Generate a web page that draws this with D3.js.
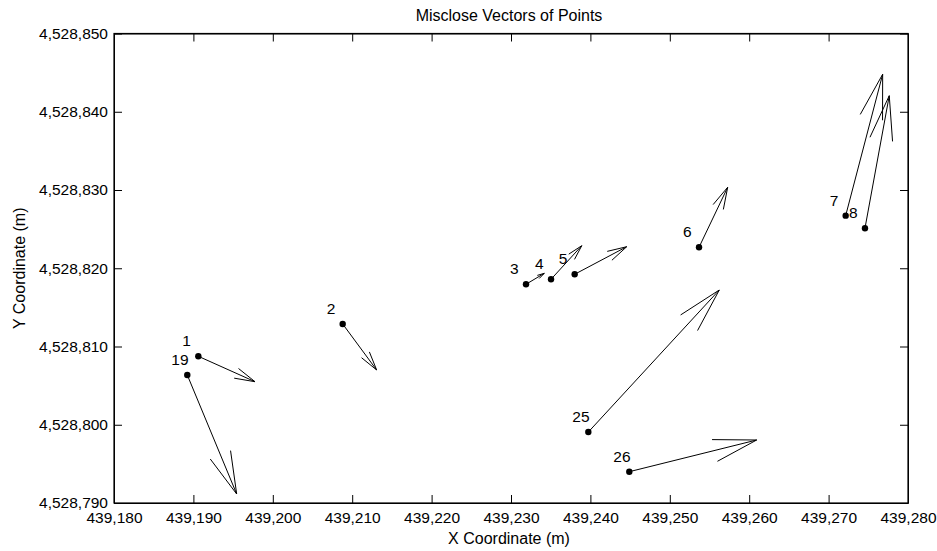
<!DOCTYPE html>
<html>
<head>
<meta charset="utf-8">
<script src="https://cdn.jsdelivr.net/npm/d3@7"></script>
<style>
  body { margin: 0; background: #fff; }
  svg { display: block; font-family: "Liberation Sans", Arial, sans-serif; }
</style>
</head>
<body>
<script>
const width = 937;
const height = 551;

// point ids, positions and drawn misclose vectors (m)
const ids = ["1", "2", "3", "4", "5", "6", "7", "8", "19", "25", "26"];
const xs = [439190.62, 439208.80, 439231.89, 439235.04, 439238.02, 439253.68, 439272.15, 439274.58, 439189.23, 439239.74, 439244.90];
const ys = [4528808.75, 4528812.88, 4528817.95, 4528818.59, 4528819.23, 4528822.68, 4528826.72, 4528825.11, 4528806.36, 4528799.07, 4528794.00];
const us = [7.14, 4.28, 2.30, 3.87, 6.55, 3.61, 4.66, 3.06, 6.22, 16.49, 16.04];
const vs = [-3.25, -5.88, 1.40, 4.29, 3.52, 7.67, 18.07, 16.94, -15.21, 18.15, 4.05];

const xTicks = [439180, 439190, 439200, 439210, 439220, 439230, 439240, 439250, 439260, 439270, 439280];
const yTicks = [4528790, 4528800, 4528810, 4528820, 4528830, 4528840, 4528850];

const plotL = 114, plotR = 908, plotT = 33.5, plotB = 503;

const svg = d3.select("body").append("svg")
    .attr("width", width)
    .attr("height", height);

const x = d3.scaleLinear().domain([439180, 439280]).range([plotL, plotR]);
const y = d3.scaleLinear().domain([4528790, 4528850]).range([plotB, plotT]);

const fmt = d3.format(",");
const tickLen = 8;

// axes, ticks pointing inward like matlab
svg.append("g")
    .attr("transform", `translate(0,${plotB})`)
    .call(d3.axisBottom(x).tickValues(xTicks).tickFormat(fmt).tickSizeInner(-tickLen).tickSizeOuter(0).tickPadding(9))
    .call(g => g.selectAll("text").attr("font-size", "15.5px").attr("fill", "#000"));

svg.append("g")
    .attr("transform", `translate(0,${plotT})`)
    .call(d3.axisTop(x).tickValues(xTicks).tickFormat("").tickSizeInner(-tickLen).tickSizeOuter(0));

svg.append("g")
    .attr("transform", `translate(${plotL},0)`)
    .call(d3.axisLeft(y).tickValues(yTicks).tickFormat(fmt).tickSizeInner(-tickLen).tickSizeOuter(0).tickPadding(6))
    .call(g => g.selectAll("text").attr("font-size", "15.5px").attr("fill", "#000"));

svg.append("g")
    .attr("transform", `translate(${plotR},0)`)
    .call(d3.axisRight(y).tickValues(yTicks).tickFormat("").tickSizeInner(-tickLen).tickSizeOuter(0));

svg.selectAll(".domain, .tick line").attr("stroke", "#000");

svg.append("rect")
    .attr("x", plotL).attr("y", plotT)
    .attr("width", plotR - plotL).attr("height", plotB - plotT)
    .attr("fill", "none").attr("stroke", "#000").attr("stroke-width", 1.2);

// titles
svg.append("text")
    .attr("x", (plotL + plotR) / 2 - 2).attr("y", 21)
    .attr("text-anchor", "middle").attr("font-size", "16px")
    .text("Misclose Vectors of Points");

svg.append("text")
    .attr("x", (plotL + plotR) / 2 - 2).attr("y", 544)
    .attr("text-anchor", "middle").attr("font-size", "16px")
    .text("X Coordinate (m)");

svg.append("text")
    .attr("transform", `translate(25,${(plotT + plotB) / 2}) rotate(-90)`)
    .attr("text-anchor", "middle").attr("font-size", "16px")
    .text("Y Coordinate (m)");

const pts = ids.map((id, i) => ({id, x: xs[i], y: ys[i], u: us[i], v: vs[i]}));

// vectors with quiver-style open heads
const spread = 14.5 * Math.PI / 180;
const vec = svg.append("g").attr("stroke", "#000").attr("stroke-width", 1).attr("fill", "none");

pts.forEach(d => {
    const x0 = x(d.x), y0 = y(d.y);
    const x1 = x(d.x + d.u), y1 = y(d.y + d.v);
    const len = Math.hypot(x1 - x0, y1 - y0);
    const head = Math.min(0.34 * len, 46);
    const ang = Math.atan2(y0 - y1, x0 - x1);
    const a1 = [x1 + head * Math.cos(ang + spread), y1 + head * Math.sin(ang + spread)];
    const a2 = [x1 + head * Math.cos(ang - spread), y1 + head * Math.sin(ang - spread)];
    vec.append("path")
        .attr("d", `M${x0},${y0}L${x1},${y1}M${a1[0]},${a1[1]}L${x1},${y1}L${a2[0]},${a2[1]}`);
});

svg.append("g")
    .selectAll("circle")
    .data(pts)
    .enter()
    .append("circle")
    .attr("cx", d => x(d.x))
    .attr("cy", d => y(d.y))
    .attr("r", 3.2)
    .attr("fill", "#000");

svg.append("g")
    .selectAll("text")
    .data(pts)
    .enter()
    .append("text")
    .attr("x", d => x(d.x) - 16)
    .attr("y", d => y(d.y) - 10)
    .attr("font-size", "15.5px")
    .text(d => d.id);
</script>
</body>
</html>
